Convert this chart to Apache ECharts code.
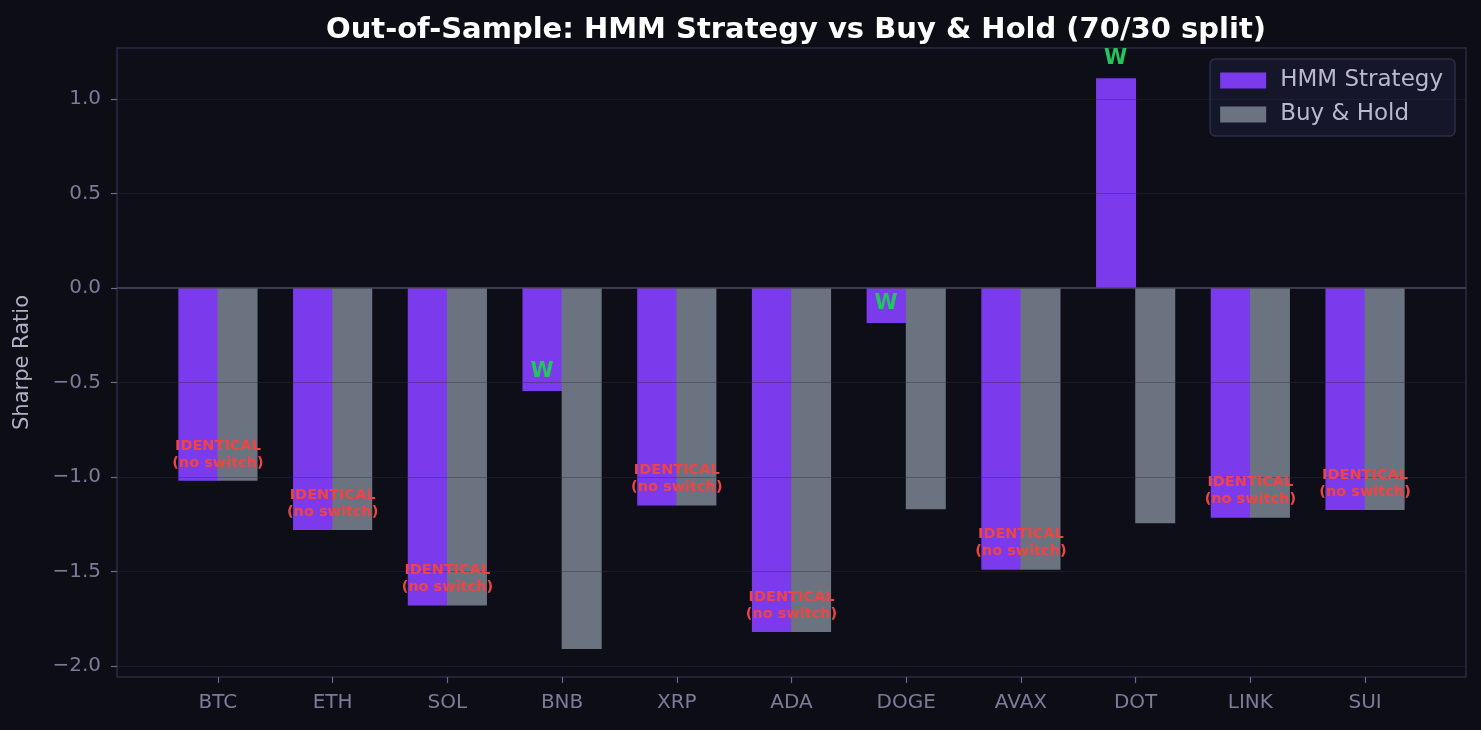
<!DOCTYPE html>
<html>
<head>
<meta charset="utf-8">
<script src="https://cdn.jsdelivr.net/npm/echarts@6/dist/echarts.min.js"></script>
<style>
  html, body { margin: 0; padding: 0; background: #0d0d16; }
  #chart { width: 1481px; height: 730px; }
</style>
</head>
<body>
<div id="chart"></div>
<script>
// data
const coins = ['BTC', 'ETH', 'SOL', 'BNB', 'XRP', 'ADA', 'DOGE', 'AVAX', 'DOT', 'LINK', 'SUI'];
const hmmSharpe = [-1.02, -1.28, -1.68, -0.545, -1.15, -1.82, -0.185, -1.49, 1.11, -1.215, -1.175];
const bhSharpe = [-1.02, -1.28, -1.68, -1.91, -1.15, -1.82, -1.17, -1.49, -1.245, -1.215, -1.175];
const yTicks = [-2.0, -1.5, -1.0, -0.5, 0.0, 0.5, 1.0];
const xTicks = [0, 1, 2, 3, 4, 5, 6, 7, 8, 9, 10];

const FONT = 'DejaVu Sans';
const barHalf = 0.175; // half of a bar, in axis units

// W where strategy beats buy & hold, IDENTICAL where both are equal
const winMarks = [];
const identMarks = [];
coins.forEach((c, i) => {
  if (hmmSharpe[i] === bhSharpe[i]) {
    identMarks.push([i, Math.min(hmmSharpe[i], bhSharpe[i]) + 0.05]);
  } else if (hmmSharpe[i] > bhSharpe[i]) {
    winMarks.push([i - barHalf, hmmSharpe[i] + 0.05]);
  }
});

const chart = echarts.init(document.getElementById('chart'));

chart.setOption({
  backgroundColor: '#0d0d16',
  animation: false,
  title: {
    text: 'Out-of-Sample: HMM Strategy vs Buy & Hold (70/30 split)',
    left: 791,
    top: 11,
    textAlign: 'center',
    textStyle: { color: '#ffffff', fontFamily: FONT, fontWeight: 'bold', fontSize: 29 }
  },
  legend: {
    right: 26,
    top: 59,
    orient: 'vertical',
    itemWidth: 46,
    itemHeight: 16,
    itemGap: 11,
    padding: [10, 12, 10, 10],
    backgroundColor: '#16162a',
    borderColor: '#2e2c48',
    borderWidth: 1.5,
    borderRadius: 5,
    icon: 'rect',
    textStyle: { color: '#b9b8cf', fontFamily: FONT, fontSize: 23, padding: [0, 0, 0, 9] },
    data: ['HMM Strategy', 'Buy & Hold']
  },
  grid: {
    left: 117,
    right: 15,
    top: 48,
    bottom: 53,
    show: true,
    backgroundColor: '#0e0e19',
    borderColor: '#2c2a44',
    borderWidth: 1.5
  },
  xAxis: {
    type: 'value',
    min: -0.88,
    max: 10.88,
    axisLine: { show: false, onZero: false },
    splitLine: { show: false },
    axisTick: { show: true, customValues: xTicks, length: 6, lineStyle: { color: '#6c6a8c', width: 1.2 } },
    axisLabel: {
      customValues: xTicks,
      formatter: v => coins[Math.round(v)],
      color: '#7c7b9a',
      fontFamily: FONT,
      fontSize: 20,
      margin: 16
    }
  },
  yAxis: {
    type: 'value',
    min: -2.058,
    max: 1.27,
    name: 'Sharpe Ratio',
    nameLocation: 'middle',
    nameGap: 84,
    nameTextStyle: { color: '#b0afc6', fontFamily: FONT, fontSize: 21 },
    axisLine: { show: false, onZero: false },
    splitLine: { show: false },
    axisTick: { show: true, customValues: yTicks, length: 6, lineStyle: { color: '#6c6a8c', width: 1.2 } },
    axisLabel: {
      customValues: yTicks,
      formatter: v => v.toFixed(1).replace('-', '\u2212'),
      color: '#7c7b9a',
      fontFamily: FONT,
      fontSize: 20,
      margin: 16
    }
  },
  series: [
    {
      name: 'HMM Strategy',
      type: 'bar',
      barWidth: 40,
      barGap: '-2%',
      itemStyle: { color: '#7c3aed' },
      data: hmmSharpe.map((v, i) => [i, v])
    },
    {
      name: 'Buy & Hold',
      type: 'bar',
      barWidth: 40,
      barGap: '-2%',
      itemStyle: { color: '#6b7280' },
      data: bhSharpe.map((v, i) => [i, v])
    },
    {
      // grid lines and zero line drawn over the bars
      type: 'line',
      data: [],
      z: 5,
      silent: true,
      markLine: {
        silent: true,
        symbol: 'none',
        label: { show: false },
        data: yTicks.filter(t => t !== 0).map(t => ({
          yAxis: t,
          lineStyle: { color: 'rgba(44,44,64,0.4)', width: 1.2, type: 'solid' }
        })).concat([{
          yAxis: 0,
          lineStyle: { color: '#4a4862', width: 1.6, type: 'solid' }
        }])
      }
    },
    {
      type: 'scatter',
      symbolSize: 0,
      z: 6,
      silent: true,
      itemStyle: { opacity: 1 },
      data: winMarks,
      label: {
        show: true,
        position: 'top',
        distance: 0,
        formatter: 'W',
        color: '#22c55e',
        opacity: 1,
        fontFamily: FONT,
        fontWeight: 'bold',
        fontSize: 21
      }
    },
    {
      type: 'scatter',
      symbolSize: 0,
      z: 6,
      silent: true,
      itemStyle: { opacity: 1 },
      data: identMarks,
      label: {
        show: true,
        position: 'top',
        distance: 0,
        formatter: 'IDENTICAL\n(no switch)',
        color: '#ef4444',
        opacity: 1,
        fontFamily: FONT,
        fontWeight: 'bold',
        fontSize: 14.5,
        lineHeight: 17,
        align: 'center'
      }
    }
  ]
});
</script>
</body>
</html>
